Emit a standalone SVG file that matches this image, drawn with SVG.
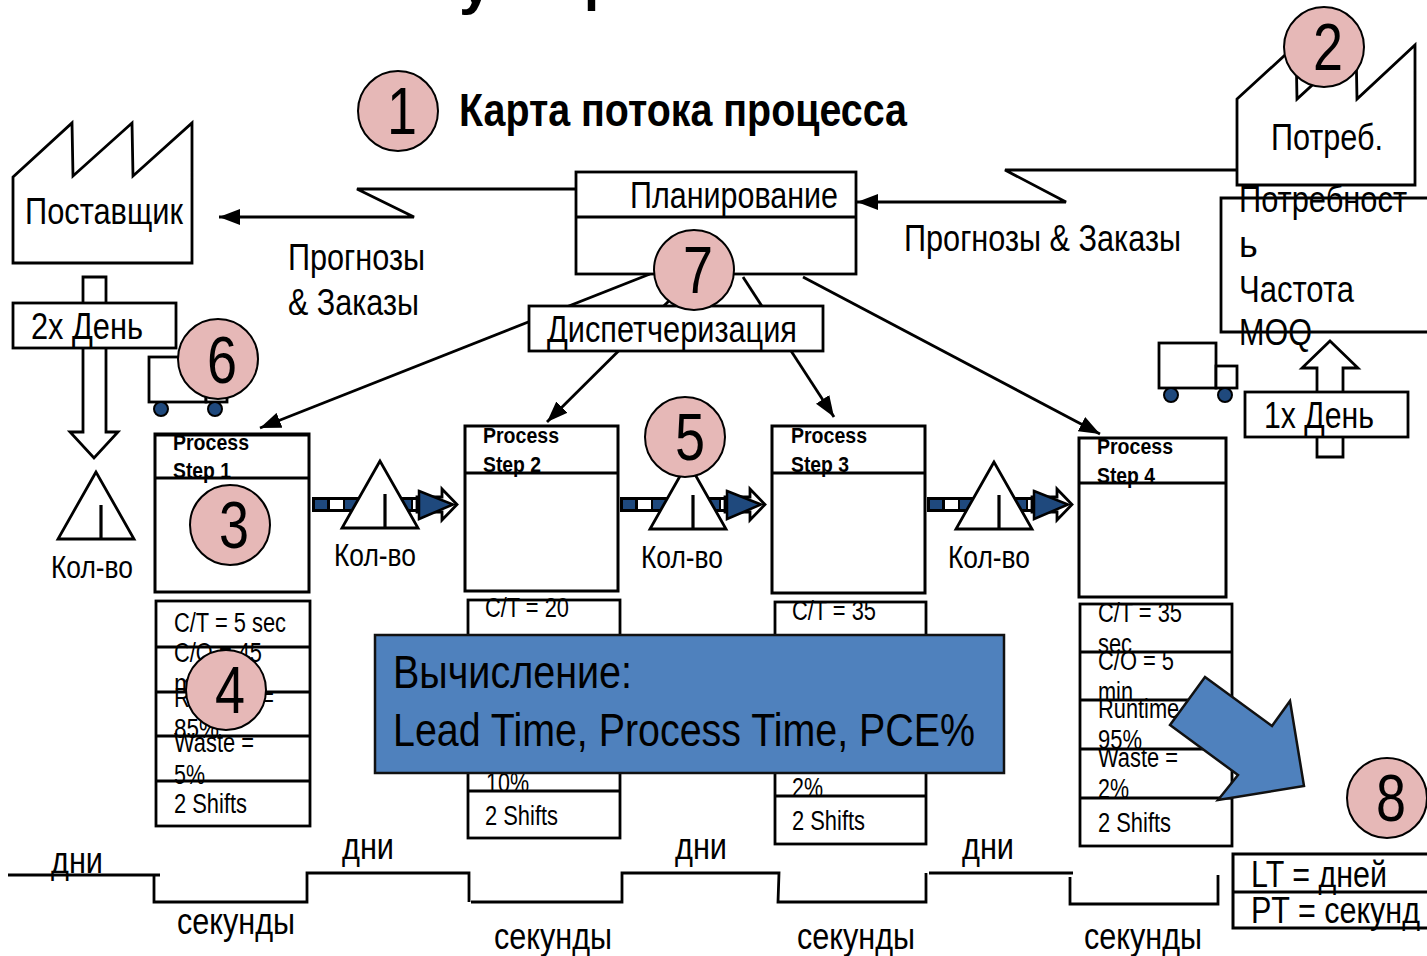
<svg xmlns="http://www.w3.org/2000/svg" width="1427" height="956" viewBox="0 0 1427 956">
<style>
text{font-family:"Liberation Sans",Arial,sans-serif;fill:#000}
.l{font-size:36px}
.s{font-size:27px}
.b{font-size:22px;font-weight:bold}
.k{font-size:31px}
.n{font-size:66px;text-anchor:middle}
.t{font-size:47px}
.o{fill:#fff;stroke:#000;stroke-width:2.8}
.c{fill:none;stroke:#000;stroke-width:2.8}
.h{fill:none;stroke:#000;stroke-width:3.2}
.m{fill:#E6B8B7;stroke:#000;stroke-width:2}
.w{fill:#1F497D;stroke:#000;stroke-width:2}
.f{fill:#4F81BD;stroke:#111;stroke-width:2.5}
</style>
<defs>
<marker id="ah" markerUnits="userSpaceOnUse" markerWidth="22" markerHeight="16" refX="21" refY="8" orient="auto"><path d="M0 0L21 8L0 16Z" fill="#000"/></marker>
<g id="truck"><rect class="o" x="0" y="0" width="57" height="45"/><rect class="o" x="57" y="23" width="21" height="22"/><circle class="w" cx="12" cy="52" r="7"/><circle class="w" cx="66" cy="52" r="7"/></g>
<g id="push">
<rect x="0" y="0" width="106" height="15" fill="#000"/>
<rect x="3" y="3" width="12" height="9" fill="#1F497D"/><rect x="18" y="3" width="13" height="9" fill="#fff"/><rect x="33" y="3" width="14" height="9" fill="#1F497D"/><rect x="50" y="3" width="13" height="9" fill="#fff"/><rect x="65" y="3" width="14" height="9" fill="#1F497D"/><rect x="82" y="3" width="4" height="9" fill="#fff"/><rect x="88" y="3" width="11" height="9" fill="#1F497D"/><rect x="101" y="3" width="4" height="9" fill="#fff"/>
<path d="M130 -8L145 7.5L130 23L130 15L105 15L105 0L130 0Z" fill="#fff" stroke="#000" stroke-width="2.8"/>
<path d="M107 -6L141 7.5L107 22Z" fill="#1F497D" stroke="#000" stroke-width="2.5"/>
</g>
<g id="inv"><path class="o" d="M38 0L0 67L76 67Z"/><path class="h" d="M43 33L43 67"/></g>
</defs>

<text x="459" y="3" font-size="58" font-weight="bold" textLength="33" lengthAdjust="spacingAndGlyphs">у</text>
<text x="584" y="-1" font-size="58" font-weight="bold" textLength="33" lengthAdjust="spacingAndGlyphs">р</text>
<text x="459" y="126" font-size="47" font-weight="bold" textLength="448" lengthAdjust="spacingAndGlyphs">Карта потока процесса</text>

<g id="connectors">
<path class="c" d="M576 189L357 189L414 217L219 217" marker-end="url(#ah)"/>
<path class="c" d="M1238 170L1005 170L1066 202L857 202" marker-end="url(#ah)"/>
<path class="c" d="M650 274L260 428" marker-end="url(#ah)"/>
<path class="c" d="M690 280L547 422" marker-end="url(#ah)"/>
<path class="c" d="M743 277L834 417" marker-end="url(#ah)"/>
<path class="c" d="M803 277L1100 434" marker-end="url(#ah)"/>
<use href="#push" x="312" y="497"/>
<use href="#push" x="620" y="497"/>
<use href="#push" x="927" y="497"/>
<path class="c" d="M8 875L160 875M154 875L154 902L307 902L307 873L469 873L469 902M471 902L622 902L622 873L779 873L778 902L926 902L926 873M929 873L1073 873M1070 877L1070 904L1218 904L1218 875"/>
</g>

<g id="supplier">
<path class="o" d="M13 177L72 123L73 176L132 123L133 176L192 123L192 263L13 263Z"/>
<text class="l" x="25" y="224" textLength="158" lengthAdjust="spacingAndGlyphs">Поставщик</text>
</g>
<g id="inbound">
<path class="o" d="M83 277L106 277L106 432L118 432L94 458L70 432L83 432Z"/>
<rect class="o" x="13" y="303" width="163" height="45"/>
<text class="l" x="31" y="339" textLength="112" lengthAdjust="spacingAndGlyphs">2x День</text>
</g>
<use id="truck-in" href="#truck" x="149" y="357"/>
<g id="inv-0"><use href="#inv" x="58" y="472"/><text class="k" x="51" y="578" textLength="82" lengthAdjust="spacingAndGlyphs">Кол-во</text></g>
<g id="label-left">
<text class="l" x="288" y="270" textLength="137" lengthAdjust="spacingAndGlyphs">Прогнозы</text>
<text class="l" x="288" y="315" textLength="131" lengthAdjust="spacingAndGlyphs">&amp; Заказы</text>
</g>
<text id="label-right" class="l" x="904" y="251" textLength="277" lengthAdjust="spacingAndGlyphs">Прогнозы &amp; Заказы</text>

<g id="planning">
<rect class="o" x="576" y="172" width="280" height="102"/>
<path class="c" d="M576 217L856 217"/>
<text class="l" x="630" y="208" textLength="208" lengthAdjust="spacingAndGlyphs">Планирование</text>
</g>
<g id="dispatch">
<rect class="o" x="529" y="306" width="294" height="45"/>
<text class="l" x="547" y="342" textLength="250" lengthAdjust="spacingAndGlyphs">Диспетчеризация</text>
</g>

<g id="customer">
<path class="o" d="M1237 99L1296 45L1297 99L1356 45L1357 99L1415 45L1415 185L1237 185Z"/>
<text class="l" x="1271" y="150" textLength="112" lengthAdjust="spacingAndGlyphs">Потреб.</text>
</g>
<g id="customer-data">
<path class="c" d="M1430 198L1221 198L1221 332L1430 332"/>
<text class="l" x="1239" y="212" textLength="168" lengthAdjust="spacingAndGlyphs">Потребност</text>
<text class="l" x="1239" y="257">ь</text>
<text class="l" x="1239" y="302" textLength="115" lengthAdjust="spacingAndGlyphs">Частота</text>
<text class="l" x="1239" y="345" textLength="73" lengthAdjust="spacingAndGlyphs">MOQ</text>
</g>
<g id="outbound">
<path class="o" d="M1330 341L1358 368L1343 368L1343 457L1317 457L1317 368L1302 368Z"/>
<rect class="o" x="1245" y="392" width="163" height="45"/>
<text class="l" x="1264" y="428" textLength="110" lengthAdjust="spacingAndGlyphs">1x День</text>
</g>
<use id="truck-out" href="#truck" x="1159" y="343"/>

<g id="step1">
<rect class="o" x="155" y="434" width="154" height="158" style="stroke-width:3"/>
<path class="h" d="M155 435L309 435"/><path class="c" d="M155 478L309 478"/>
<text class="b" x="173" y="450" textLength="76" lengthAdjust="spacingAndGlyphs">Process</text>
<text class="b" x="173" y="478" textLength="58" lengthAdjust="spacingAndGlyphs">Step 1</text>
</g>
<g id="step2">
<rect class="o" x="465" y="426" width="153" height="165" style="stroke-width:3"/>
<path class="c" d="M465 473L618 473"/>
<text class="b" x="483" y="443" textLength="76" lengthAdjust="spacingAndGlyphs">Process</text>
<text class="b" x="483" y="472" textLength="58" lengthAdjust="spacingAndGlyphs">Step 2</text>
</g>
<g id="step3">
<rect class="o" x="772" y="426" width="153" height="167" style="stroke-width:3"/>
<path class="c" d="M772 473L925 473"/>
<text class="b" x="791" y="443" textLength="76" lengthAdjust="spacingAndGlyphs">Process</text>
<text class="b" x="791" y="472" textLength="58" lengthAdjust="spacingAndGlyphs">Step 3</text>
</g>
<g id="step4">
<rect class="o" x="1079" y="438" width="147" height="159" style="stroke-width:3"/>
<path class="c" d="M1079 483L1226 483"/>
<text class="b" x="1097" y="454" textLength="76" lengthAdjust="spacingAndGlyphs">Process</text>
<text class="b" x="1097" y="483" textLength="58" lengthAdjust="spacingAndGlyphs">Step 4</text>
</g>

<g id="inv-1"><use href="#inv" x="342" y="461"/><text class="k" x="334" y="566" textLength="82" lengthAdjust="spacingAndGlyphs">Кол-во</text></g>
<g id="inv-2"><use href="#inv" x="650" y="462"/><text class="k" x="641" y="568" textLength="82" lengthAdjust="spacingAndGlyphs">Кол-во</text></g>
<g id="inv-3"><use href="#inv" x="956" y="462"/><text class="k" x="948" y="568" textLength="82" lengthAdjust="spacingAndGlyphs">Кол-во</text></g>

<g id="data1">
<rect class="o" x="156" y="601" width="154" height="225"/>
<path class="h" d="M156 647L310 647M156 692L310 692M156 736L310 736M156 781L310 781"/>
<text class="s" x="174" y="632" textLength="112" lengthAdjust="spacingAndGlyphs">C/T = 5 sec</text>
<text class="s" x="174" y="662" textLength="88" lengthAdjust="spacingAndGlyphs">C/O = 45</text>
<text class="s" x="174" y="693" textLength="40" lengthAdjust="spacingAndGlyphs">min</text>
<text class="s" x="174" y="707" textLength="100" lengthAdjust="spacingAndGlyphs">Runtime =</text>
<text class="s" x="174" y="738" textLength="45" lengthAdjust="spacingAndGlyphs">85%</text>
<text class="s" x="174" y="752" textLength="80" lengthAdjust="spacingAndGlyphs">Waste =</text>
<text class="s" x="174" y="784" textLength="31" lengthAdjust="spacingAndGlyphs">5%</text>
<text class="s" x="174" y="813" textLength="73" lengthAdjust="spacingAndGlyphs">2 Shifts</text>
</g>
<g id="data2">
<rect class="o" x="468" y="600" width="152" height="238"/>
<path class="h" d="M468 791L620 791"/>
<text class="s" x="485" y="617" textLength="84" lengthAdjust="spacingAndGlyphs">C/T = 20</text>
<text class="s" x="486" y="792" textLength="43" lengthAdjust="spacingAndGlyphs">10%</text>
<text class="s" x="485" y="825" textLength="73" lengthAdjust="spacingAndGlyphs">2 Shifts</text>
</g>
<g id="data3">
<rect class="o" x="775" y="602" width="151" height="242"/>
<path class="h" d="M775 796L926 796"/>
<text class="s" x="792" y="620" textLength="84" lengthAdjust="spacingAndGlyphs">C/T = 35</text>
<text class="s" x="792" y="797" textLength="31" lengthAdjust="spacingAndGlyphs">2%</text>
<text class="s" x="792" y="830" textLength="73" lengthAdjust="spacingAndGlyphs">2 Shifts</text>
</g>
<g id="data4">
<rect class="o" x="1080" y="604" width="152" height="242"/>
<path class="h" d="M1080 652L1232 652M1080 700L1232 700M1080 749L1232 749M1080 798L1232 798"/>
<text class="s" x="1098" y="622" textLength="84" lengthAdjust="spacingAndGlyphs">C/T = 35</text>
<text class="s" x="1098" y="653" textLength="34" lengthAdjust="spacingAndGlyphs">sec</text>
<text class="s" x="1098" y="670" textLength="76" lengthAdjust="spacingAndGlyphs">C/O = 5</text>
<text class="s" x="1098" y="701" textLength="35" lengthAdjust="spacingAndGlyphs">min</text>
<text class="s" x="1098" y="718" textLength="100" lengthAdjust="spacingAndGlyphs">Runtime =</text>
<text class="s" x="1098" y="749" textLength="44" lengthAdjust="spacingAndGlyphs">95%</text>
<text class="s" x="1098" y="767" textLength="80" lengthAdjust="spacingAndGlyphs">Waste =</text>
<text class="s" x="1098" y="798" textLength="31" lengthAdjust="spacingAndGlyphs">2%</text>
<text class="s" x="1098" y="832" textLength="73" lengthAdjust="spacingAndGlyphs">2 Shifts</text>
</g>

<g id="timeline-labels">
<text class="l" x="51" y="873" textLength="52" lengthAdjust="spacingAndGlyphs">дни</text>
<text class="l" x="342" y="859" textLength="52" lengthAdjust="spacingAndGlyphs">дни</text>
<text class="l" x="675" y="859" textLength="52" lengthAdjust="spacingAndGlyphs">дни</text>
<text class="l" x="962" y="859" textLength="52" lengthAdjust="spacingAndGlyphs">дни</text>
<text class="l" x="177" y="934" textLength="118" lengthAdjust="spacingAndGlyphs">секунды</text>
<text class="l" x="494" y="949" textLength="118" lengthAdjust="spacingAndGlyphs">секунды</text>
<text class="l" x="797" y="949" textLength="118" lengthAdjust="spacingAndGlyphs">секунды</text>
<text class="l" x="1084" y="949" textLength="118" lengthAdjust="spacingAndGlyphs">секунды</text>
</g>

<g id="totals">
<path class="c" d="M1430 854L1233 854L1233 928L1430 928M1233 892L1430 892" style="stroke-width:3"/>
<text class="l" x="1251" y="887" textLength="136" lengthAdjust="spacingAndGlyphs">LT = дней</text>
<text class="l" x="1251" y="923" textLength="169" lengthAdjust="spacingAndGlyphs">PT = секунд</text>
</g>

<g id="calc">
<rect class="f" x="375" y="635" width="629" height="138"/>
<text class="t" x="393" y="688" textLength="239" lengthAdjust="spacingAndGlyphs">Вычисление:</text>
<text class="t" x="393" y="746" textLength="582" lengthAdjust="spacingAndGlyphs">Lead Time, Process Time, PCE%</text>
</g>
<path id="big-arrow" class="f" d="M1205 677L1272 726L1290 701L1304 786L1218 800L1238 775L1170 725Z"/>

<g id="badge1"><circle class="m" cx="398" cy="111" r="40"/><text class="n" x="402" y="134" textLength="30" lengthAdjust="spacingAndGlyphs">1</text></g>
<g id="badge2"><circle class="m" cx="1324" cy="47" r="40"/><text class="n" x="1328" y="70" textLength="30" lengthAdjust="spacingAndGlyphs">2</text></g>
<g id="badge3"><circle class="m" cx="230" cy="525" r="40"/><text class="n" x="234" y="548" textLength="30" lengthAdjust="spacingAndGlyphs">3</text></g>
<g id="badge4"><circle class="m" cx="226" cy="690" r="40"/><text class="n" x="230" y="713" textLength="30" lengthAdjust="spacingAndGlyphs">4</text></g>
<g id="badge5"><circle class="m" cx="685" cy="437" r="40"/><text class="n" x="690" y="460" textLength="30" lengthAdjust="spacingAndGlyphs">5</text></g>
<g id="badge6"><circle class="m" cx="218" cy="359" r="40"/><text class="n" x="222" y="383" textLength="30" lengthAdjust="spacingAndGlyphs">6</text></g>
<g id="badge7"><circle class="m" cx="694" cy="270" r="40"/><text class="n" x="698" y="293" textLength="30" lengthAdjust="spacingAndGlyphs">7</text></g>
<g id="badge8"><circle class="m" cx="1387" cy="798" r="40"/><text class="n" x="1391" y="821" textLength="30" lengthAdjust="spacingAndGlyphs">8</text></g>
</svg>
